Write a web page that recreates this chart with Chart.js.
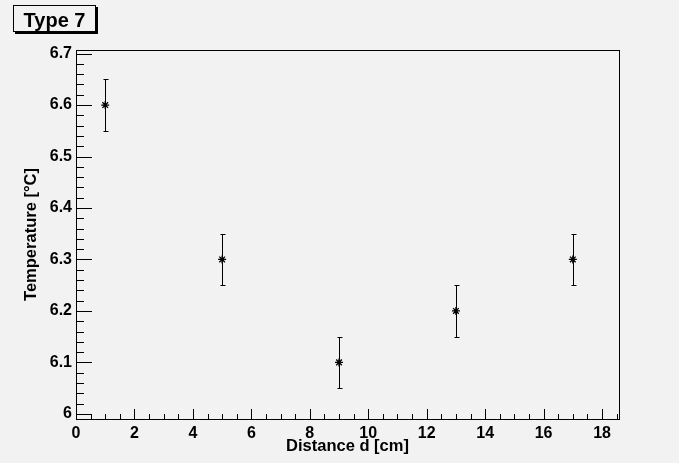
<!DOCTYPE html>
<html>
<head>
<meta charset="utf-8">
<script src="https://cdn.jsdelivr.net/npm/chart.js@4"></script>
<style>
  html, body { margin: 0; padding: 0; background: #f2f2f2; }
  #wrap { width: 679px; height: 463px; position: relative; }
</style>
</head>
<body>
<div id="wrap"><canvas id="myChart"></canvas></div>
<script>
// data
var distances = [1, 5, 9, 13, 17];
var temperatures = [6.6, 6.3, 6.1, 6.2, 6.3];
var tempErrors = [0.05, 0.05, 0.05, 0.05, 0.05];

var xTicks = [0, 2, 4, 6, 8, 10, 12, 14, 16, 18];
var yTicks = [6, 6.1, 6.2, 6.3, 6.4, 6.5, 6.6, 6.7];
var titleText = 'Type 7';

var points = distances.map(function (d, i) { return { x: d, y: temperatures[i] }; });

var FONT = '"Liberation Sans", Arial, sans-serif';

// ROOT style frame, inward ticks, error bars and title box
var rootStyle = {
    id: 'rootStyle',
    afterDatasetsDraw: function (chart) {
        var ctx = chart.ctx;
        var a = chart.chartArea;
        var xs = chart.scales.x, ys = chart.scales.y;
        ctx.save();
        ctx.strokeStyle = '#000';
        ctx.lineWidth = 1;

        // error bars
        temperatures.forEach(function (t, i) {
            var px = Math.round(xs.getPixelForValue(distances[i])) + 0.5;
            var top = Math.round(ys.getPixelForValue(t + tempErrors[i])) + 0.5;
            var bot = Math.round(ys.getPixelForValue(t - tempErrors[i])) + 0.5;
            ctx.beginPath();
            ctx.moveTo(px, top); ctx.lineTo(px, bot);
            ctx.moveTo(px - 2, top); ctx.lineTo(px + 3, top);
            ctx.moveTo(px - 2, bot); ctx.lineTo(px + 3, bot);
            ctx.stroke();
        });

        // frame
        ctx.strokeRect(Math.round(a.left) + 0.5, Math.round(a.top) + 0.5,
            Math.round(a.right - a.left), Math.round(a.bottom - a.top));

        // x ticks: major every 2, minor every 0.5
        ctx.beginPath();
        for (var v = 0; v <= xs.max + 1e-9; v += 0.5) {
            var px = Math.round(xs.getPixelForValue(v)) + 0.5;
            var len = (Math.abs(v / 2 - Math.round(v / 2)) < 1e-6) ? 10 : 5;
            ctx.moveTo(px, a.bottom); ctx.lineTo(px, a.bottom - len);
        }
        // y ticks: major every 0.1, minor every 0.02
        for (var k = 0; k <= 35; k++) {
            var val = 6 + k * 0.02;
            if (val > ys.max) break;
            var py = Math.round(ys.getPixelForValue(val)) + 0.5;
            var l = (k % 5 === 0) ? 16 : 8;
            ctx.moveTo(a.left, py); ctx.lineTo(a.left + l, py);
        }
        ctx.stroke();

        // title box with shadow
        var bx = 13, by = 5, bw = 82, bh = 26;
        ctx.fillStyle = '#000';
        ctx.fillRect(bx + 2, by + 2, bw + 1, bh + 1);
        ctx.fillStyle = '#f2f2f2';
        ctx.fillRect(bx, by, bw, bh);
        ctx.strokeRect(bx + 0.5, by + 0.5, bw, bh);
        ctx.fillStyle = '#000';
        ctx.font = 'bold 20px ' + FONT;
        ctx.textAlign = 'center';
        ctx.textBaseline = 'alphabetic';
        ctx.fillText(titleText, bx + bw / 2 + 0.5, 27);
        ctx.restore();
    }
};

var ctx = document.getElementById('myChart').getContext('2d');
var myChart = new Chart(ctx, {
    type: 'scatter',
    data: {
        datasets: [{
            label: 'Type 7',
            data: points,
            pointStyle: 'star',
            pointRadius: 4,
            pointHoverRadius: 4,
            borderColor: '#000',
            backgroundColor: '#000',
            borderWidth: 1.3
        }]
    },
    plugins: [rootStyle],
    options: {
        responsive: true,
        maintainAspectRatio: false,
        animation: false,
        layout: { padding: { left: 0, right: 60, top: 50, bottom: 0 } },
        plugins: { legend: { display: false }, tooltip: { enabled: false } },
        scales: {
            x: {
                type: 'linear',
                min: 0,
                max: 18.58,
                grid: { display: false, drawTicks: false },
                border: { display: false },
                afterBuildTicks: function (s) { s.ticks = xTicks.map(function (v) { return { value: v }; }); },
                afterFit: function (s) { s.height = 44; },
                ticks: {
                    color: '#000',
                    padding: 5,
                    maxRotation: 0,
                    autoSkip: false,
                    font: { family: FONT, size: 16, weight: 'bold' }
                },
                title: {
                    display: true,
                    text: 'Distance d [cm]',
                    color: '#000',
                    padding: { top: 0, bottom: 7 },
                    font: { family: FONT, size: 16.5, weight: 'bold' }
                }
            },
            y: {
                type: 'linear',
                min: 5.99,
                max: 6.707,
                grid: { display: false, drawTicks: false },
                border: { display: false },
                afterBuildTicks: function (s) { s.ticks = yTicks.map(function (v) { return { value: v }; }); },
                afterFit: function (s) { s.width = 76; },
                ticks: {
                    color: '#000',
                    padding: 4,
                    autoSkip: false,
                    callback: function (v) { return String(Number(v.toFixed(2))); },
                    font: { family: FONT, size: 16, weight: 'bold' }
                },
                title: {
                    display: true,
                    text: 'Temperature [°C]',
                    color: '#000',
                    padding: { top: 22, bottom: 0 },
                    font: { family: FONT, size: 16.5, weight: 'bold' }
                }
            }
        }
    }
});
</script>
</body>
</html>
